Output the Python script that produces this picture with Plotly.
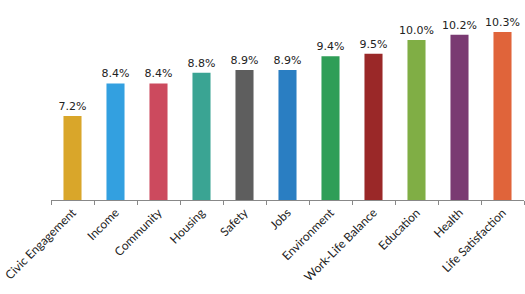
import plotly.graph_objects as go

categories = ["Civic Engagement", "Income", "Community", "Housing", "Safety", "Jobs",
              "Environment", "Work-Life Balance", "Education", "Health", "Life Satisfaction"]
values = [7.2, 8.4, 8.4, 8.8, 8.9, 8.9, 9.4, 9.5, 10.0, 10.2, 10.3]
colors = ["#d9a62a", "#33a0e0", "#cc4a5e", "#3aa493", "#5e5e5e", "#2a7ec2",
          "#2f9e57", "#9a2828", "#80ae45", "#7a3a72", "#e0643a"]

fig = go.Figure(go.Bar(
    x=categories, y=values, marker_color=colors, marker_line_width=0,
    width=0.42,
    texttemplate="%{y:.1f}%", textposition="outside", cliponaxis=False,
    textfont=dict(family="DejaVu Sans", size=11, color="#222222"),
))
fig.update_layout(
    width=525, height=294, margin=dict(l=51, r=1, t=0, b=94),
    plot_bgcolor="white", paper_bgcolor="white", showlegend=False,
    uniformtext=dict(minsize=11, mode="show"),
)
fig.update_xaxes(
    showline=True, linecolor="#888888", linewidth=1,
    ticks="outside", ticklen=4, tickcolor="#888888", tickson="boundaries",
    tickangle=-45, tickfont=dict(family="Lato", size=12, color="#222222"),
)
fig.update_yaxes(visible=False, range=[4.1, 11.48], showgrid=False)
fig.write_html("out.html")
